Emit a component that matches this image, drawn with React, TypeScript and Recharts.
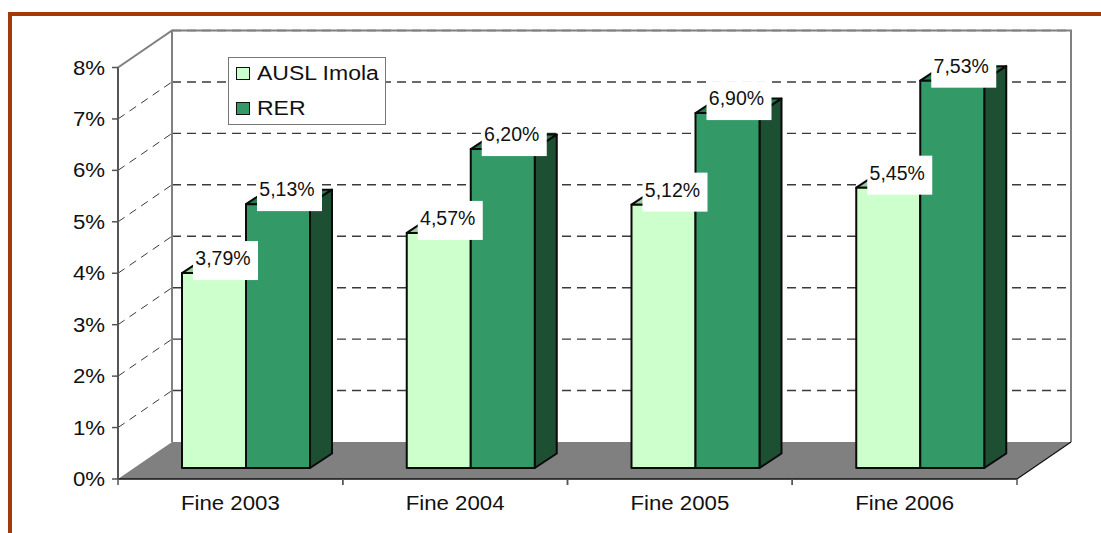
import { BarChart, Bar, XAxis, YAxis, CartesianGrid, Legend, LabelList } from 'recharts';

const categories = ['Fine 2003', 'Fine 2004', 'Fine 2005', 'Fine 2006'];
const auslImola = [3.79, 4.57, 5.12, 5.45];
const rer = [5.13, 6.2, 6.9, 7.53];
const yTicks = [0, 1, 2, 3, 4, 5, 6, 7, 8];

const data = categories.map((name, i) => ({ name, ausl: auslImola[i], rer: rer[i] }));

const FONT = '"Liberation Sans", Arial, sans-serif';
const WIDTH = 1101;
const HEIGHT = 533;
const LEFT = 118;
const RIGHT = 1017;
const TOP = 67.5;
const BOTTOM = 479;
// offset of the back wall from the front plane
const WALL_DX = 54;
const WALL_DY = -37;
// where the bars stand on the floor, and how deep they are
const BAR_DX = 16;
const BAR_DY = -11;
const DEPTH_X = 22;
const DEPTH_Y = -14.5;
const BAND = (RIGHT - LEFT) / categories.length;
const TEXT_STRETCH = 1.14;

const percent = (v: number) => `${v.toFixed(2).replace('.', ',')}%`;

function WideText({ x, y, size = 19.5, stretch = TEXT_STRETCH, anchor = 'middle', children }: any) {
  return (
    <text
      transform={`translate(${x},${y}) scale(${stretch},1)`}
      textAnchor={anchor}
      fontFamily={FONT}
      fontSize={size}
      fill="#111"
    >
      {children}
    </text>
  );
}

function Bar3D({ x, y, width, height, fill, top, side }: any) {
  const fx = x + BAR_DX;
  const fy = y + BAR_DY;
  const sx = fx + width;
  const by = fy + height;
  return (
    <g stroke="#0a0a0a" strokeWidth={2} strokeLinejoin="round">
      <polygon points={`${fx},${fy} ${fx + DEPTH_X},${fy + DEPTH_Y} ${sx + DEPTH_X},${fy + DEPTH_Y} ${sx},${fy}`} fill={top} />
      <polygon points={`${sx},${fy} ${sx + DEPTH_X},${fy + DEPTH_Y} ${sx + DEPTH_X},${by + DEPTH_Y} ${sx},${by}`} fill={side} />
      <rect x={fx} y={fy} width={width} height={height} fill={fill} />
    </g>
  );
}

function BoxLabel({ x, y, value }: any) {
  const fx = x + BAR_DX;
  const fy = y + BAR_DY;
  return (
    <g>
      <rect x={fx + 11} y={fy - 32} width={65} height={39} fill="#fff" />
      <WideText x={fx + 41} y={fy - 8} size={19.5} stretch={1}>{percent(value)}</WideText>
    </g>
  );
}

function GridLine({ x1, y1, x2, index }: any) {
  if (y1 >= BOTTOM - 1) return <g key={index} />;
  const backY = y1 + WALL_DY;
  return (
    <g key={index} stroke="#3a3a3a" fill="none">
      <line x1={x1} y1={y1} x2={x1 + WALL_DX} y2={backY} strokeWidth={1} strokeDasharray="8 6" />
      <line x1={x1 + WALL_DX} y1={backY} x2={x2 + WALL_DX} y2={backY} strokeWidth={1.4} strokeDasharray="9 6" />
    </g>
  );
}

function Walls() {
  return (
    <g>
      <polygon
        points={`${LEFT},${BOTTOM} ${LEFT + WALL_DX},${BOTTOM + WALL_DY} ${RIGHT + WALL_DX},${BOTTOM + WALL_DY} ${RIGHT},${BOTTOM}`}
        fill="#808080"
      />
      <polyline
        points={`${LEFT},${TOP} ${LEFT + WALL_DX},${TOP + WALL_DY} ${RIGHT + WALL_DX},${TOP + WALL_DY} ${RIGHT + WALL_DX},${BOTTOM + WALL_DY}`}
        fill="none"
        stroke="#808080"
        strokeWidth={2}
      />
      <line x1={LEFT + WALL_DX} y1={TOP + WALL_DY} x2={LEFT + WALL_DX} y2={BOTTOM + WALL_DY} stroke="#808080" strokeWidth={2} />
      <line x1={RIGHT} y1={BOTTOM} x2={RIGHT + WALL_DX} y2={BOTTOM + WALL_DY} stroke="#111" strokeWidth={1.2} />
    </g>
  );
}

function XTick({ x, y, payload }: any) {
  return (
    <g>
      <line x1={x - BAND / 2} y1={y - 8} x2={x - BAND / 2} y2={y - 2} stroke="#555" strokeWidth={1.5} />
      <line x1={x + BAND / 2} y1={y - 8} x2={x + BAND / 2} y2={y - 2} stroke="#555" strokeWidth={1.5} />
      <WideText x={x} y={y + 23}>{payload.value}</WideText>
    </g>
  );
}

function YTick({ x, y, payload }: any) {
  return <WideText x={x - 5} y={y + 7} anchor="end">{`${payload.value}%`}</WideText>;
}

function ChartLegend({ payload }: any) {
  return (
    <div style={{ width: 156, height: 66, border: '1px solid #777', background: '#fff', boxSizing: 'content-box', position: 'relative' }}>
      {(payload || []).map((entry: any, i: number) => (
        <div key={entry.value} style={{ position: 'absolute', left: 7, top: i === 0 ? 2 : 37, height: 27, display: 'flex', alignItems: 'center' }}>
          <span style={{ width: 12, height: 11, border: '1px solid #111', background: entry.color, display: 'inline-block' }} />
          <span style={{ marginLeft: 7, fontFamily: FONT, fontSize: 20, color: '#111', transform: 'scaleX(1.15)', transformOrigin: 'left center', whiteSpace: 'nowrap' }}>
            {entry.value}
          </span>
        </div>
      ))}
    </div>
  );
}

export default function App() {
  return (
    <div style={{ position: 'absolute', left: 0, top: 0, width: WIDTH, height: HEIGHT, background: '#fff', overflow: 'hidden' }}>
      <div style={{ position: 'absolute', left: 8, top: 12, right: 0, height: 3.5, background: '#A33A0A' }} />
      <div style={{ position: 'absolute', left: 8, top: 12, bottom: 0, width: 4, background: '#A33A0A' }} />
      <BarChart
        width={WIDTH}
        height={HEIGHT}
        data={data}
        margin={{ top: TOP, right: WIDTH - RIGHT, bottom: 0, left: 0 }}
        barSize={64}
        barGap={0}
        style={{ position: 'absolute', left: 0, top: 0 }}
      >
        <Walls />
        <CartesianGrid horizontal={GridLine} vertical={false} />
        <XAxis
          dataKey="name"
          height={HEIGHT - BOTTOM}
          axisLine={{ stroke: '#111', strokeWidth: 1.5 }}
          tickLine={false}
          tick={XTick}
          interval={0}
        />
        <YAxis
          width={LEFT}
          domain={[0, 8]}
          ticks={yTicks}
          axisLine={{ stroke: '#555', strokeWidth: 2 }}
          tickSize={6}
          tickLine={{ stroke: '#555', strokeWidth: 1.5 }}
          tick={YTick}
          interval={0}
        />
        <Legend
          content={ChartLegend}
          layout="vertical"
          align="center"
          verticalAlign="middle"
          wrapperStyle={{ position: 'absolute', left: 228, top: 57, width: 158, height: 68, bottom: 'auto' }}
        />
        <Bar
          dataKey="ausl"
          name="AUSL Imola"
          fill="#CCFFCC"
          isAnimationActive={false}
          shape={(p: any) => <Bar3D {...p} fill="#CCFFCC" top="#9FCC9F" side="#7FA07F" />}
        >
          <LabelList dataKey="ausl" content={BoxLabel} />
        </Bar>
        <Bar
          dataKey="rer"
          name="RER"
          fill="#339966"
          isAnimationActive={false}
          shape={(p: any) => <Bar3D {...p} fill="#339966" top="#287A50" side="#1D4F33" />}
        >
          <LabelList dataKey="rer" content={BoxLabel} />
        </Bar>
      </BarChart>
    </div>
  );
}
